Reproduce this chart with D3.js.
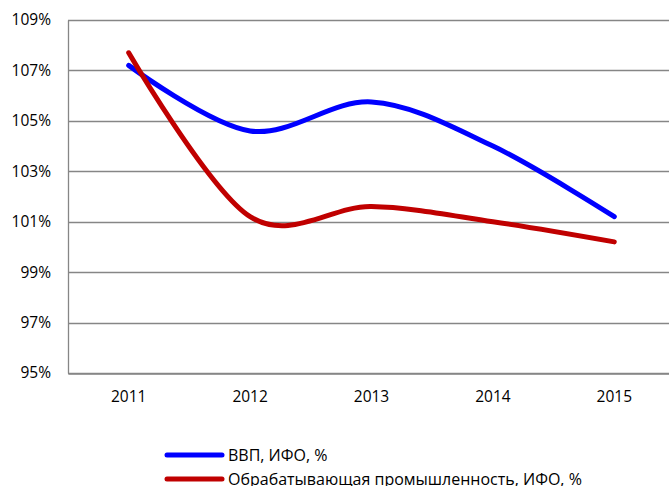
<!DOCTYPE html>
<html>
<head>
<meta charset="utf-8">
<script src="https://cdn.jsdelivr.net/npm/d3@7"></script>
<style>
  body { margin: 0; background: #fff; }
  svg { display: block; font-family: "Open Sans", "Liberation Sans", sans-serif; }
</style>
</head>
<body>
<div id="chart"></div>
<script>
var years = ["2011", "2012", "2013", "2014", "2015"];
var gdp = [107.2, 104.6, 105.75, 104.0, 101.2];
var manufacturing = [107.7, 101.2, 101.6, 101.0, 100.2];
var yTicks = [95, 97, 99, 101, 103, 105, 107, 109];
var seriesNames = ["ВВП, ИФО, %", "Обрабатывающая промышленность, ИФО, %"];
var seriesColors = ["#0000ff", "#c00000"];

var svgWidth = 669;
var svgHeight = 486;

var margin = { top: 20, right: -6, bottom: 113, left: 68 };
var width = svgWidth - margin.left - margin.right;
var height = svgHeight - margin.top - margin.bottom;

var svg = d3.select("#chart")
  .append("svg")
  .attr("width", svgWidth)
  .attr("height", svgHeight);

var chartGroup = svg.append("g")
  .attr("transform", `translate(${margin.left}, ${margin.top})`);

var xScale = d3.scaleBand()
  .domain(years)
  .range([0, width]);

var yScale = d3.scaleLinear()
  .domain([95, 109])
  .range([height, 0]);

// gridlines
chartGroup.selectAll(".grid")
  .data(yTicks)
  .enter()
  .append("line")
  .attr("x1", 0)
  .attr("x2", width)
  .attr("y1", d => Math.round(yScale(d)) + 0.5)
  .attr("y2", d => Math.round(yScale(d)) + 0.5)
  .attr("stroke", "#868686")
  .attr("stroke-width", 1.3);

// y axis
var leftAxis = d3.axisLeft(yScale)
  .tickValues(yTicks)
  .tickSize(0)
  .tickPadding(17)
  .tickFormat(d => d + "%");

var yAxis = chartGroup.append("g").call(leftAxis);
yAxis.select(".domain").attr("stroke", "#868686").attr("stroke-width", 1.3);
yAxis.selectAll("text")
  .attr("font-size", 15.5)
  .attr("fill", "#000")
  .attr("font-family", "'Open Sans', sans-serif");

// x axis
var bottomAxis = d3.axisBottom(xScale).tickSize(0).tickPadding(17);
var xAxis = chartGroup.append("g")
  .attr("transform", `translate(0, ${Math.round(height) + 0.5})`)
  .call(bottomAxis);
xAxis.select(".domain").attr("stroke", "#868686").attr("stroke-width", 1.3);
xAxis.selectAll("text")
  .attr("font-size", 15.5)
  .attr("fill", "#000")
  .attr("font-family", "'Open Sans', sans-serif");

// lines
var line = d3.line()
  .x((d, i) => xScale(years[i]) + xScale.bandwidth() / 2)
  .y(d => yScale(d))
  .curve(d3.curveCardinal.tension(0));

[gdp, manufacturing].forEach(function(values, i) {
  chartGroup.append("path")
    .datum(values)
    .attr("d", line)
    .attr("fill", "none")
    .attr("stroke", seriesColors[i])
    .attr("stroke-width", 5)
    .attr("stroke-linecap", "round")
    .attr("stroke-linejoin", "round");
});

// legend
var legend = svg.append("g").attr("transform", "translate(167, 455)");
seriesNames.forEach(function(name, i) {
  var row = legend.append("g").attr("transform", `translate(0, ${i * 24})`);
  row.append("line")
    .attr("x1", 0)
    .attr("x2", 55)
    .attr("stroke", seriesColors[i])
    .attr("stroke-width", 5)
    .attr("stroke-linecap", "round");
  row.append("text")
    .attr("x", 61)
    .attr("y", 5.5)
    .attr("font-size", 16)
    .text(name);
});
</script>
</body>
</html>
